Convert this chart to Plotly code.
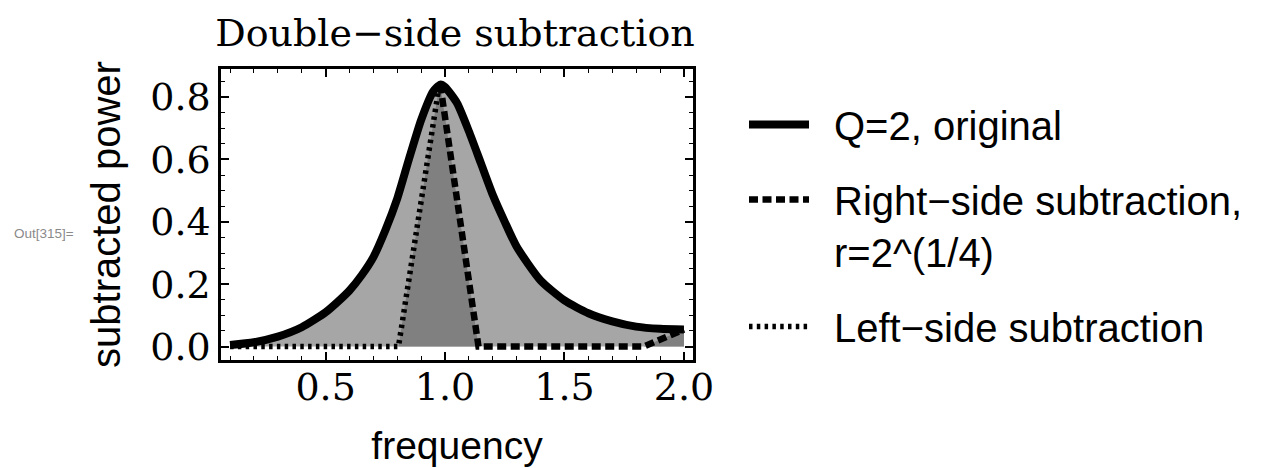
import plotly.graph_objects as go

# ---- data ----
freq = [0.1, 0.2, 0.3, 0.4, 0.5, 0.55, 0.6, 0.65, 0.7, 0.75, 0.8, 0.85, 0.9, 0.95,
        0.98, 1.0, 1.05, 1.1, 1.15, 1.2, 1.25, 1.3, 1.4, 1.5, 1.6, 1.7, 1.8, 1.9, 2.0]
original = [0.005, 0.014, 0.032, 0.062, 0.110, 0.143, 0.180, 0.228, 0.287, 0.373,
            0.475, 0.604, 0.727, 0.818, 0.840, 0.832, 0.781, 0.690, 0.588, 0.486,
            0.400, 0.320, 0.212, 0.148, 0.107, 0.081, 0.064, 0.057, 0.055]

left_x = [0.1, 0.805, 0.975]
left_y = [0.0, 0.0, 0.835]

right_x = [0.98, 1.14, 1.832, 2.0]
right_y = [0.84, 0.0, 0.0, 0.055]

GAP = "\u2002"  # spacing between legend symbol and text
name_orig = GAP + "Q=2, original"
name_right = GAP + "Right\u2212side subtraction,<br>" + GAP + "r=2^(1/4)"
name_left = GAP + "Left\u2212side subtraction"
title_text = "Double\u2212side subtraction"

LIGHT = "#a6a6a6"
DARK = "#808080"
SERIF = "DejaVu Serif"
SANS = "Liberation Sans, Arial, sans-serif"

W, H = 1275, 468
L, R, T, B = 213, 590, 61, 116

fig = go.Figure()

# light fill under original curve
fig.add_trace(go.Scatter(x=freq, y=original, mode="lines", line=dict(width=0, shape="spline", smoothing=0.6),
                         fill="tozeroy", fillcolor=LIGHT, showlegend=False, hoverinfo="skip"))
# dark overlap: between left-side rising edge and right-side falling edge
fig.add_trace(go.Scatter(x=left_x[1:] + right_x[:2], y=left_y[1:] + right_y[:2], mode="lines",
                         line=dict(width=0), fill="tozeroy", fillcolor=DARK,
                         showlegend=False, hoverinfo="skip"))
# dark overlap at the far right
fig.add_trace(go.Scatter(x=right_x[2:], y=right_y[2:], mode="lines", line=dict(width=0),
                         fill="tozeroy", fillcolor=DARK, showlegend=False, hoverinfo="skip"))

# lines
fig.add_trace(go.Scatter(x=freq, y=original, mode="lines", name=name_orig, legendrank=1,
                         legendgroup="a",
                         line=dict(color="black", width=8, shape="spline", smoothing=0.6)))
fig.add_trace(go.Scatter(x=right_x, y=right_y, mode="lines", name=name_right, legendrank=2,
                         legendgroup="b",
                         line=dict(color="black", width=6.5, dash="9px,4.5px")))
fig.add_trace(go.Scatter(x=left_x, y=left_y, mode="lines", name=name_left, legendrank=3,
                         legendgroup="c",
                         line=dict(color="black", width=5.5, dash="3.5px,4.3px")))

axis_common = dict(showline=True, linecolor="black", linewidth=2.5, mirror="allticks",
                   ticks="inside", ticklen=8, tickwidth=1.5, tickcolor="black",
                   showgrid=False, zeroline=False, tickformat=".1f",
                   tickfont=dict(family=SERIF, size=38, color="black"))

fig.update_xaxes(range=[0.062, 2.038], tick0=0, dtick=0.5, ticklabelstandoff=-8,
                 minor=dict(tick0=0, dtick=0.1, ticks="inside", ticklen=4, tickwidth=1, tickcolor="black"),
                 title=dict(text="frequency", font=dict(family=SANS, size=39, color="black"), standoff=24),
                 **axis_common)
fig.update_yaxes(range=[-0.043, 0.89], tick0=0, dtick=0.2,
                 minor=dict(tick0=0, dtick=0.05, ticks="inside", ticklen=4, tickwidth=1, tickcolor="black"),
                 title=dict(text="subtracted power", font=dict(family=SANS, size=40, color="black"), standoff=18),
                 **axis_common)

pw = W - L - R
ph = H - T - B
fig.update_layout(
    width=W, height=H,
    margin=dict(l=L, r=R, t=T, b=B),
    paper_bgcolor="white", plot_bgcolor="white",
    title=dict(text=title_text, font=dict(family=SERIF, size=38, color="black"),
               x=447 / W, xref="container", xanchor="center",
               y=1 - 38 / H, yref="container", yanchor="bottom"),
    legend=dict(x=736 / W, xref="container", y=1 - 84 / H, yref="container",
                xanchor="left", yanchor="top", itemwidth=60, valign="top",
                tracegroupgap=20, bgcolor="rgba(0,0,0,0)", maxheight=1000,
                font=dict(family=SANS, size=40, color="black")),
    annotations=[dict(text="Out[315]=", x=(4 - L) / pw, y=(H - B - 225) / ph,
                      xref="paper", yref="paper", showarrow=False,
                      xanchor="left", yanchor="middle",
                      font=dict(family=SANS, size=13.5, color="#8a8a8a"))],
)

fig.write_html("out.html")
